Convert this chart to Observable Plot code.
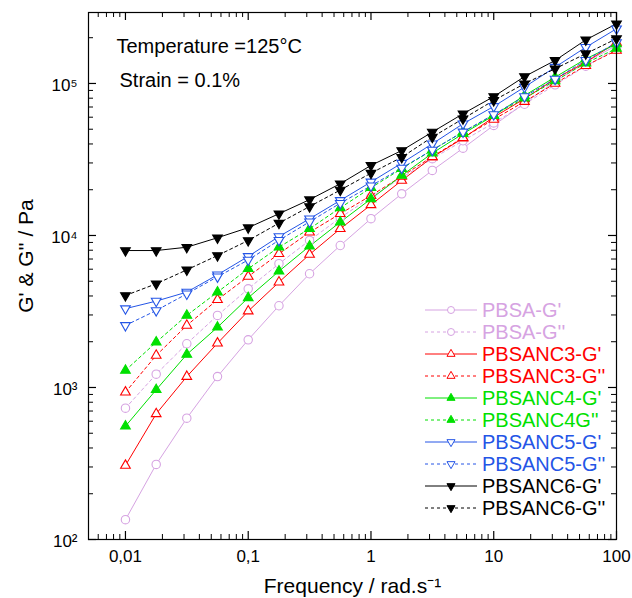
<!DOCTYPE html>
<html>
<head>
<meta charset="utf-8">
<script src="https://cdn.jsdelivr.net/npm/d3@7"></script>
<script src="https://cdn.jsdelivr.net/npm/@observablehq/plot@0.6"></script>
<style>
  html, body { margin: 0; padding: 0; background: #fff; }
  #chart { width: 632px; height: 598px; }
</style>
</head>
<body>
<div id="chart"></div>
<script>
// ---- data ----
const freq = [0.01, 0.0178, 0.0316, 0.0562, 0.1, 0.178, 0.316, 0.562, 1, 1.78, 3.16, 5.62, 10, 17.8, 31.6, 56.2, 100];

const PBSA_Gp     = [135, 312, 628, 1180, 2060, 3450, 5600, 8590, 12900, 18800, 26800, 37500, 53000, 74100, 103000, 138000, 178000];
const PBSA_Gpp    = [731, 1223, 1940, 2980, 4460, 6520, 9270, 13070, 17900, 24000, 32000, 42000, 55000, 73000, 98000, 130000, 168000];
const PBSANC3_Gp  = [307, 671, 1180, 1955, 3180, 4930, 7500, 11070, 15900, 23000, 32700, 43600, 60000, 79300, 107000, 138000, 186000];
const PBSANC3_Gpp = [931, 1625, 2560, 3780, 5370, 7580, 10500, 13900, 18300, 24500, 33000, 44000, 58000, 76000, 100000, 131000, 165000];
const PBSANC4_Gp  = [556, 966, 1650, 2490, 3890, 5820, 8510, 12250, 17400, 24800, 34800, 46700, 61500, 83300, 110000, 145000, 182000];
const PBSANC4_Gpp = [1295, 1985, 2980, 4240, 6040, 8380, 11070, 15200, 20600, 27500, 36500, 48000, 62000, 80000, 104000, 136000, 170000];
const PBSANC5_Gp  = [3300, 3700, 4240, 5510, 7280, 9840, 12880, 17000, 22500, 29900, 40100, 54300, 70600, 94600, 128000, 173000, 229000];
const PBSANC5_Gpp = [2560, 3210, 4130, 5350, 6900, 9300, 12300, 16300, 21200, 27800, 36500, 48000, 62500, 82000, 107000, 142000, 186000];
const PBSANC6_Gp  = [7960, 7960, 8370, 9660, 11250, 13900, 17200, 21900, 28900, 36200, 47900, 63200, 82000, 111000, 141700, 193500, 247000];
const PBSANC6_Gpp = [4030, 4810, 5940, 7380, 9270, 12050, 15500, 19900, 25700, 32700, 44400, 58600, 77300, 99600, 125000, 157000, 197000];

const seriesNames = ["PBSA-G'", "PBSA-G''", "PBSANC3-G'", "PBSANC3-G''", "PBSANC4-G'", "PBSANC4G''", "PBSANC5-G'", "PBSANC5-G''", "PBSANC6-G'", "PBSANC6-G''"];
const seriesValues = [PBSA_Gp, PBSA_Gpp, PBSANC3_Gp, PBSANC3_Gpp, PBSANC4_Gp, PBSANC4_Gpp, PBSANC5_Gp, PBSANC5_Gpp, PBSANC6_Gp, PBSANC6_Gpp];

const xTicks = [0.01, 0.1, 1, 10, 100];
const yTicks = [100, 1000, 10000, 100000];
const supDigits = {"2": "\u00B2", "3": "\u00B3", "4": "\u2074", "5": "\u2075"};

// ---- styles ----
const violet = "#d6a3e2", red = "#ff0000", green = "#00e000", blue = "#2455e6", black = "#000000";
const sqrt3 = Math.sqrt(3);
const triangleDown = {
  draw(context, size) {
    const y = -Math.sqrt(size / (sqrt3 * 3));
    context.moveTo(0, -y * 2);
    context.lineTo(-sqrt3 * y, y);
    context.lineTo(sqrt3 * y, y);
    context.closePath();
  }
};
const styles = [
  {color: violet, dash: null,  symbol: "circle",   filled: false, r: 4.2},
  {color: violet, dash: "3,3", symbol: "circle",   filled: false, r: 4.2},
  {color: red,    dash: null,  symbol: "triangle", filled: false, r: 3.6},
  {color: red,    dash: "3,3", symbol: "triangle", filled: false, r: 3.6},
  {color: green,  dash: null,  symbol: "triangle", filled: true,  r: 3.6},
  {color: green,  dash: "3,3", symbol: "triangle", filled: true,  r: 3.6},
  {color: blue,   dash: null,  symbol: triangleDown, filled: false, r: 3.6},
  {color: blue,   dash: "3,3", symbol: triangleDown, filled: false, r: 3.6},
  {color: black,  dash: null,  symbol: triangleDown, filled: true,  r: 3.6},
  {color: black,  dash: "3,3", symbol: triangleDown, filled: true,  r: 3.6}
];

const W = 632, H = 598, mL = 88, mR = 16, mT = 12, mB = 59;
const innerW = W - mL - mR, innerH = H - mT - mB;

// minor ticks
const xMinor = [];
for (let e = -3; e <= 1; e++) for (let m = 2; m <= 9; m++) { const v = m * 10 ** e; if (v >= 0.005 && v <= 100) xMinor.push(v); }
const yMinor = [];
for (let e = 2; e <= 5; e++) for (let m = 2; m <= 9; m++) { const v = m * 10 ** e; if (v < 2.93e5) yMinor.push(v); }

const marks = [];
seriesNames.forEach((name, i) => {
  const rows = freq.map((f, j) => ({f, v: seriesValues[i][j]}));
  const s = styles[i];
  marks.push(Plot.line(rows, {x: "f", y: "v", stroke: s.color, strokeWidth: 1, strokeDasharray: s.dash}));
});
seriesNames.forEach((name, i) => {
  const rows = freq.map((f, j) => ({f, v: seriesValues[i][j]}));
  const s = styles[i];
  marks.push(Plot.dot(rows, {x: "f", y: "v", symbol: () => s.symbol, r: s.r, stroke: s.color, strokeWidth: 1.1, fill: s.filled ? s.color : "white"}));
});

const svg = Plot.plot({
  width: W, height: H,
  marginLeft: mL, marginRight: mR, marginTop: mT, marginBottom: mB,
  style: {fontFamily: "'Liberation Sans', Arial, sans-serif", background: "white", color: "black"},
  x: {type: "log", domain: [0.005, 100], axis: null},
  y: {type: "log", domain: [100, 2.93e5], axis: null},
  symbol: {type: "identity"},
  marks: [
    ...marks,
    Plot.frame({stroke: "black", strokeWidth: 1.2}),
    // inward ticks: bottom / top
    Plot.ruleX(xTicks, {x: d => d, insetTop: innerH - 8, stroke: "black", strokeWidth: 1.2}),
    Plot.ruleX(xMinor, {x: d => d, insetTop: innerH - 5, stroke: "black"}),
    Plot.ruleX(xTicks, {x: d => d, insetBottom: innerH - 8, stroke: "black", strokeWidth: 1.2}),
    Plot.ruleX(xMinor, {x: d => d, insetBottom: innerH - 5, stroke: "black"}),
    // inward ticks: left / right
    Plot.ruleY(yTicks, {y: d => d, insetRight: innerW - 8, stroke: "black", strokeWidth: 1.2}),
    Plot.ruleY(yMinor, {y: d => d, insetRight: innerW - 5, stroke: "black"}),
    Plot.ruleY(yTicks, {y: d => d, insetLeft: innerW - 8, stroke: "black", strokeWidth: 1.2}),
    Plot.ruleY(yMinor, {y: d => d, insetLeft: innerW - 5, stroke: "black"}),
    // tick labels
    Plot.text(xTicks, {x: d => d, frameAnchor: "bottom", lineAnchor: "middle", dy: 17.5, text: d => String(d).replace(".", ","), fontSize: 17, fill: "black"}),
    Plot.text(yTicks, {y: d => d, frameAnchor: "left", lineAnchor: "middle", dx: -11, dy: 2, textAnchor: "end", text: d => "10" + supDigits[String(Math.round(Math.log10(d)))], fontSize: 17, fill: "black"}),
    // axis titles
    Plot.text(["Frequency / rad.s\u207B\u00B9"], {frameAnchor: "bottom", textAnchor: "middle", lineAnchor: "middle", dy: 47, fontSize: 21, fill: "black"}),
    Plot.text(["G' & G'' / Pa"], {frameAnchor: "left", textAnchor: "middle", lineAnchor: "middle", dx: -62, dy: -20, rotate: -90, fontSize: 21, fill: "black"}),
    // annotations
    Plot.text(["Temperature =125\u00B0C"], {frameAnchor: "top-left", lineAnchor: "middle", dx: 28, dy: 34, textAnchor: "start", fontSize: 20, fill: "black"}),
    Plot.text(["Strain = 0.1%"], {frameAnchor: "top-left", lineAnchor: "middle", dx: 31, dy: 68, textAnchor: "start", fontSize: 20, fill: "black"})
  ]
});

// ---- legend (inside the frame, lower right) ----
const g = d3.select(svg).append("g").attr("font-family", "'Liberation Sans', Arial, sans-serif").attr("text-anchor", "start");
seriesNames.forEach((name, i) => {
  const s = styles[i];
  const y = 310 + 22 * i;
  g.append("line").attr("x1", 425).attr("x2", 477).attr("y1", y).attr("y2", y)
    .attr("stroke", s.color).attr("stroke-width", 1).attr("stroke-dasharray", s.dash);
  const sym = s.symbol === "circle" ? d3.symbolCircle : s.symbol === "triangle" ? d3.symbolTriangle : triangleDown;
  const size = Math.PI * (s.symbol === "circle" ? 3.5 : 3.0) ** 2;
  g.append("path").attr("d", d3.symbol(sym, size)()).attr("transform", `translate(451,${y})`)
    .attr("stroke", s.color).attr("stroke-width", 1).attr("fill", s.filled ? s.color : "white");
  g.append("text").attr("x", 482).attr("y", y).attr("dy", "0.36em").attr("font-size", 20)
    .attr("text-anchor", "start").attr("fill", s.color).text(name);
});

document.getElementById("chart").appendChild(svg);
</script>
</body>
</html>
